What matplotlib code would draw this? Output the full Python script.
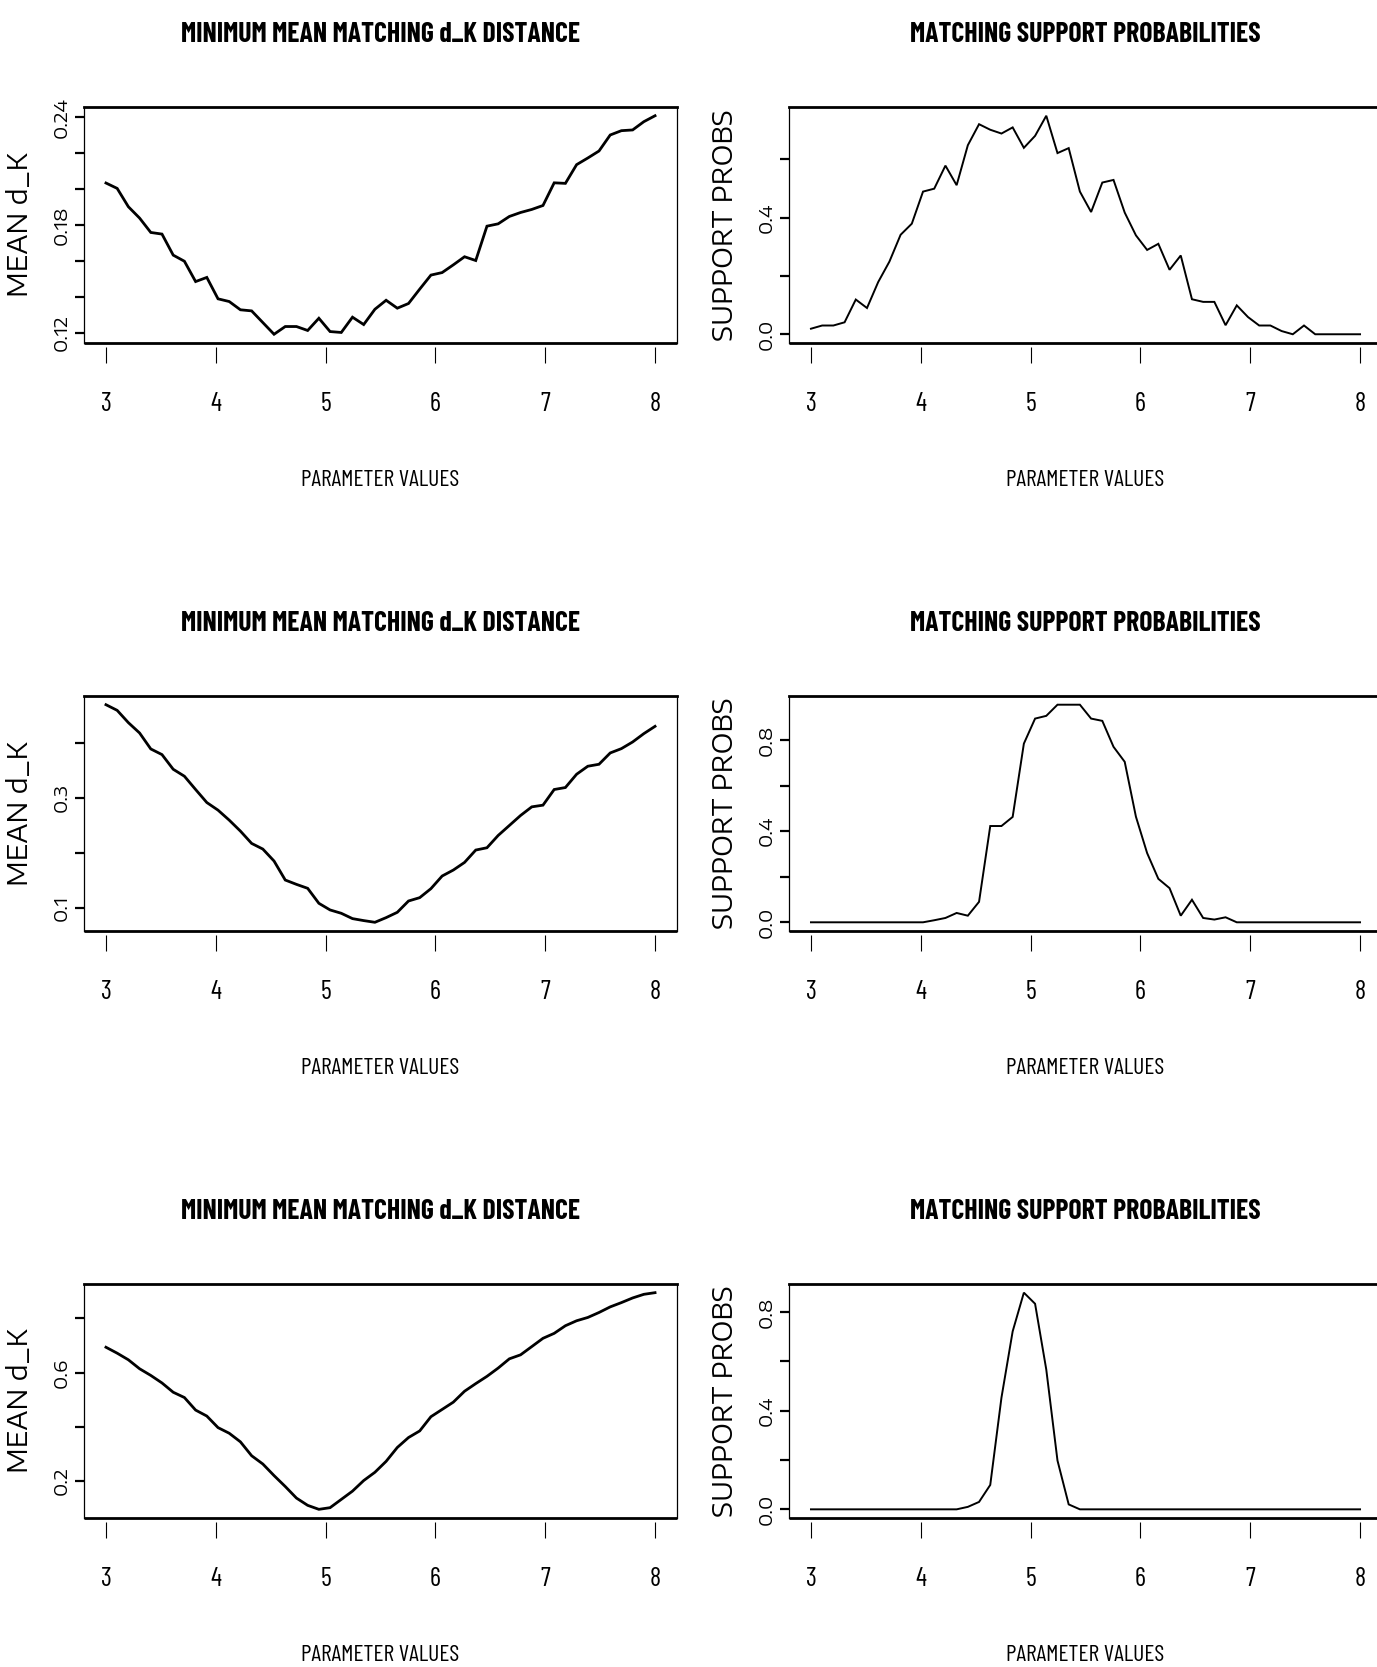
import numpy as np
import matplotlib
matplotlib.use('Agg')
import matplotlib.pyplot as plt
from matplotlib.ticker import FixedLocator, FixedFormatter

# parameter grid, 50 points from 3 to 8
param_values = np.linspace(3, 8, 50)

dist_1 = [0.2035, 0.2005, 0.1903, 0.1840, 0.1760, 0.1751, 0.1634, 0.1600, 0.1487, 0.1510,
          0.1391, 0.1376, 0.1330, 0.1324, 0.1259, 0.1194, 0.1237, 0.1237, 0.1215, 0.1283,
          0.1209, 0.1204, 0.1289, 0.1248, 0.1333, 0.1383, 0.1339, 0.1365, 0.1445, 0.1523,
          0.1537, 0.1580, 0.1625, 0.1604, 0.1795, 0.1808, 0.1849, 0.1871, 0.1888, 0.1910,
          0.2036, 0.2033, 0.2137, 0.2174, 0.2213, 0.2302, 0.2326, 0.2330, 0.2376, 0.2409]

prob_1 = [0.019, 0.030, 0.030, 0.041, 0.119, 0.090, 0.179, 0.249, 0.341, 0.379,
          0.489, 0.499, 0.578, 0.511, 0.648, 0.720, 0.701, 0.688, 0.709, 0.639,
          0.680, 0.749, 0.621, 0.638, 0.489, 0.419, 0.520, 0.529, 0.417, 0.339,
          0.289, 0.310, 0.221, 0.270, 0.120, 0.111, 0.111, 0.031, 0.099, 0.059,
          0.030, 0.030, 0.011, 0.000, 0.030, 0.000, 0.000, 0.000, 0.000, 0.000]

dist_2 = [0.4703, 0.4600, 0.4376, 0.4188, 0.3897, 0.3794, 0.3527, 0.3400, 0.3158, 0.2921,
          0.2782, 0.2600, 0.2400, 0.2176, 0.2073, 0.1855, 0.1509, 0.1430, 0.1358, 0.1085,
          0.0964, 0.0903, 0.0806, 0.0770, 0.0739, 0.0824, 0.0921, 0.1127, 0.1188, 0.1352,
          0.1582, 0.1691, 0.1830, 0.2055, 0.2097, 0.2321, 0.2503, 0.2685, 0.2842, 0.2873,
          0.3158, 0.3194, 0.3436, 0.3582, 0.3618, 0.3824, 0.3903, 0.4024, 0.4176, 0.4309]

prob_2 = [0.000, 0.000, 0.000, 0.000, 0.000, 0.000, 0.000, 0.000, 0.000, 0.000,
          0.000, 0.009, 0.019, 0.041, 0.029, 0.090, 0.423, 0.423, 0.463, 0.785,
          0.895, 0.907, 0.956, 0.956, 0.956, 0.895, 0.885, 0.771, 0.705, 0.464,
          0.304, 0.191, 0.150, 0.029, 0.099, 0.019, 0.012, 0.022, 0.000, 0.000,
          0.000, 0.000, 0.000, 0.000, 0.000, 0.000, 0.000, 0.000, 0.000, 0.000]

dist_3 = [0.6939, 0.6720, 0.6476, 0.6146, 0.5900, 0.5622, 0.5280, 0.5085, 0.4622, 0.4402,
          0.3976, 0.3768, 0.3451, 0.2939, 0.2634, 0.2207, 0.1805, 0.1378, 0.1110, 0.0963,
          0.1024, 0.1329, 0.1634, 0.2024, 0.2329, 0.2732, 0.3244, 0.3610, 0.3854, 0.4378,
          0.4646, 0.4915, 0.5317, 0.5598, 0.5866, 0.6171, 0.6512, 0.6659, 0.6963, 0.7268,
          0.7451, 0.7732, 0.7915, 0.8037, 0.8220, 0.8427, 0.8585, 0.8756, 0.8890, 0.8951]

prob_3 = [0.000, 0.000, 0.000, 0.000, 0.000, 0.000, 0.000, 0.000, 0.000, 0.000,
          0.000, 0.000, 0.000, 0.000, 0.010, 0.030, 0.099, 0.453, 0.722, 0.879,
          0.834, 0.567, 0.198, 0.020, 0.000, 0.000, 0.000, 0.000, 0.000, 0.000,
          0.000, 0.000, 0.000, 0.000, 0.000, 0.000, 0.000, 0.000, 0.000, 0.000,
          0.000, 0.000, 0.000, 0.000, 0.000, 0.000, 0.000, 0.000, 0.000, 0.000]

x_ticks = [3, 4, 5, 6, 7, 8]

# y ticks and which of them carry a label
yt_dist_1 = [0.12, 0.14, 0.16, 0.18, 0.20, 0.22, 0.24]
yl_dist_1 = ['0.12', '', '', '0.18', '', '', '0.24']
yt_prob_1 = [0.0, 0.2, 0.4, 0.6]
yl_prob_1 = ['0.0', '', '0.4', '']
yt_dist_2 = [0.1, 0.2, 0.3, 0.4]
yl_dist_2 = ['0.1', '', '0.3', '']
yt_prob_2 = [0.0, 0.2, 0.4, 0.6, 0.8]
yl_prob_2 = ['0.0', '', '0.4', '', '0.8']
yt_dist_3 = [0.2, 0.4, 0.6, 0.8]
yl_dist_3 = ['0.2', '', '0.6', '']
yt_prob_3 = [0.0, 0.2, 0.4, 0.6, 0.8]
yl_prob_3 = ['0.0', '', '0.4', '', '0.8']

title_dist = 'MINIMUM MEAN MATCHING d_K DISTANCE'
title_prob = 'MATCHING SUPPORT PROBABILITIES'
xlab = 'PARAMETER VALUES'
ylab_dist = 'MEAN d_K'
ylab_prob = 'SUPPORT PROBS'

narrow = ['Barlow Condensed', 'Roboto Condensed', 'DejaVu Sans']
wide = ['Encode Sans Expanded', 'DejaVu Sans']

W, H = 1377, 1667
fig = plt.figure(figsize=(W / 100, H / 100), dpi=100)

cols = [(84, 677), (789, 1382)]
rows = [(107, 343), (696, 931), (1284, 1518)]

panels = [
    (0, 0, dist_1, yt_dist_1, yl_dist_1, title_dist, ylab_dist, 2.0),
    (1, 0, prob_1, yt_prob_1, yl_prob_1, title_prob, ylab_prob, 1.4),
    (0, 1, dist_2, yt_dist_2, yl_dist_2, title_dist, ylab_dist, 2.0),
    (1, 1, prob_2, yt_prob_2, yl_prob_2, title_prob, ylab_prob, 1.4),
    (0, 2, dist_3, yt_dist_3, yl_dist_3, title_dist, ylab_dist, 2.0),
    (1, 2, prob_3, yt_prob_3, yl_prob_3, title_prob, ylab_prob, 1.4),
]

for c, r, vals, yt, yl, title, ylab, lw in panels:
    x0, x1 = cols[c]
    y0, y1 = rows[r]
    ax = fig.add_axes([x0 / W, 1 - y1 / H, (x1 - x0) / W, (y1 - y0) / H])
    ax.plot(param_values, vals, color='black', lw=lw, solid_joinstyle='miter')
    ax.margins(x=0.04, y=0.04)

    ax.xaxis.set_major_locator(FixedLocator(x_ticks))
    ax.xaxis.set_major_formatter(FixedFormatter([str(t) for t in x_ticks]))
    ax.yaxis.set_major_locator(FixedLocator(yt))
    ax.yaxis.set_major_formatter(FixedFormatter(yl))
    ax.tick_params(axis='x', direction='out', length=11.5, width=0.8, pad=21,
                   labelsize=19, labelfontfamily=narrow)
    ax.tick_params(axis='y', direction='out', length=6.5, width=1.6, pad=3,
                   labelsize=13.5, labelfontfamily=wide, labelrotation=90)
    for lab in ax.get_yticklabels():
        lab.set_verticalalignment('center')

    for side in ['left', 'right']:
        ax.spines[side].set_linewidth(0.9)
    ax.spines['top'].set_linewidth(2.0)
    ax.spines['bottom'].set_position(('outward', 3))
    ax.spines['bottom'].set_visible(False)
    ax.plot([0, 1], [0, 0], transform=ax.transAxes, color='black', lw=2.0,
            clip_on=False, solid_capstyle='butt')

    ax.set_title(title, fontfamily=narrow, fontweight='bold', fontsize=20, pad=47)
    ax.set_xlabel(xlab, fontfamily=narrow, fontsize=17)
    ax.xaxis.set_label_coords(0.5, -(127.0 / (y1 - y0)))
    ax.set_ylabel(ylab, fontfamily=wide, fontsize=19)
    ax.yaxis.set_label_coords(-50.0 / (x1 - x0), 0.5)

fig.savefig('out.png', dpi=100, facecolor='white')
